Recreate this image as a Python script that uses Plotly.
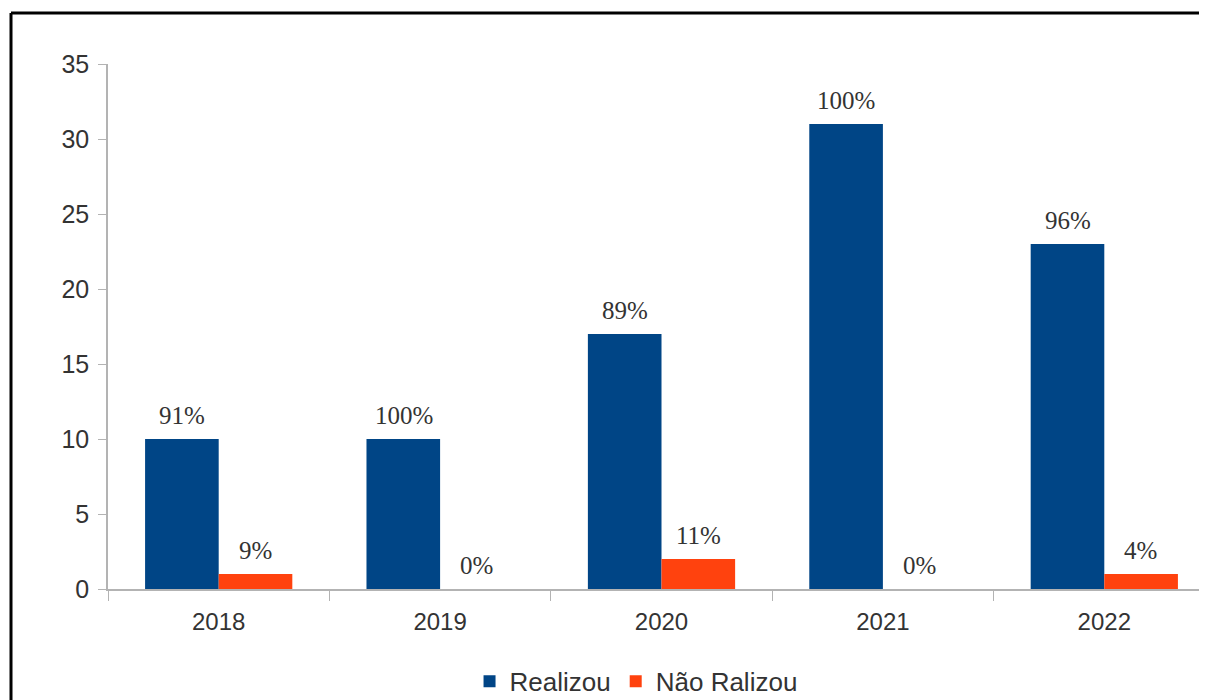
import plotly.graph_objects as go

years = ["2018", "2019", "2020", "2021", "2022"]
realizou = [10, 10, 17, 31, 23]
nao_realizou = [1, 0, 2, 0, 1]
realizou_pct = ["91%", "100%", "89%", "100%", "96%"]
nao_pct = ["9%", "0%", "11%", "0%", "4%"]

BLUE = "#004586"
ORANGE = "#ff420e"

lbl_font = dict(family="Liberation Serif", size=25, color="#333333")

fig = go.Figure()
fig.add_trace(go.Bar(x=years, y=realizou, name="Realizou",
                     marker=dict(color=BLUE, line=dict(width=0))))
fig.add_trace(go.Bar(x=years, y=nao_realizou, name="Não Ralizou",
                     marker=dict(color=ORANGE, line=dict(width=0))))

for i, yr in enumerate(years):
    fig.add_annotation(x=i, y=realizou[i], text=realizou_pct[i], xref="x", yref="y",
                       xshift=-36.5, yshift=8, yanchor="bottom", showarrow=False, font=lbl_font)
    fig.add_annotation(x=i, y=nao_realizou[i], text=nao_pct[i], xref="x", yref="y",
                       xshift=36.5, yshift=8, yanchor="bottom", showarrow=False, font=lbl_font)

L, T, B = 100, 56, 119
W, H = 1207, 700
pw = W - L
ph = H - T - B
fx = (3 - L) / pw
fy_top = 1 + (T - 5) / ph
fy_bot = -(B + 20) / ph

fig.update_layout(
    width=W, height=H,
    paper_bgcolor="white", plot_bgcolor="white",
    margin=dict(l=L, r=0, t=T, b=B, autoexpand=False),
    barmode="group", bargap=0.335, bargroupgap=0,
    font=dict(family="Liberation Sans", size=23, color="#333333"),
    showlegend=True,
    legend=dict(orientation="h", x=0.477, xanchor="center", y=-0.176, yanchor="middle",
                font=dict(family="Liberation Sans", size=26, color="#333333"),
                itemwidth=30),
    xaxis=dict(type="category", showline=True, linecolor="#b3b3b3", linewidth=1.5, ticks="outside",
               tickson="boundaries", ticklen=10, tickcolor="#b3b3b3", showgrid=False,
               range=[-0.5, 4.5], automargin=False, ticklabelstandoff=10,
               tickfont=dict(size=24, color="#333333")),
    yaxis=dict(showline=True, linecolor="#b3b3b3", linewidth=1.5, ticks="outside",
               ticklen=8, tickcolor="#b3b3b3", showgrid=False, zeroline=False,
               range=[0, 35], dtick=5, automargin=False, ticklabelstandoff=4,
               tickfont=dict(size=25, color="#333333")),
    shapes=[
        dict(type="line", xref="paper", yref="paper", x0=fx, x1=1.02, y0=fy_top, y1=fy_top,
             line=dict(color="black", width=3), layer="above"),
        dict(type="line", xref="paper", yref="paper", x0=fx, x1=fx, y0=fy_top, y1=fy_bot,
             line=dict(color="black", width=3), layer="above"),
    ],
)

fig.write_html("out.html")
